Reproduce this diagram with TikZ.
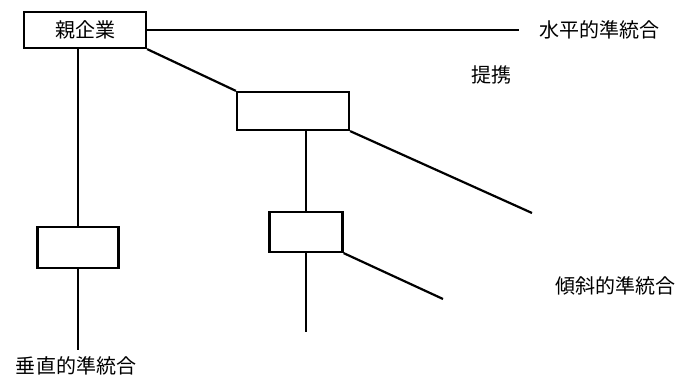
\documentclass[tikz,border=0pt]{standalone}
\usepackage{fontspec}
\newfontfamily\jpfont{Noto Sans CJK JP}
\tikzset{
  unit/.style={draw, line width=2.2pt, inner sep=0pt, fill=white},
  link/.style={line width=2.2pt},
  tag/.style={font=\jpfont\fontsize{20}{24}\selectfont, inner sep=0pt}
}
\begin{document}
\begin{tikzpicture}[x=1pt, y=-1pt]
  \useasboundingbox (0,0) rectangle (684,387);

  % companies
  \node[unit, minimum width=122pt, minimum height=36pt, tag, draw, line width=2.2pt] (parent) at (85,30) {親企業};
  \node[unit, minimum width=112pt, minimum height=38pt] (mid) at (293,111) {};
  \node[unit, minimum width=73pt, minimum height=40pt] (low) at (306,232) {};
  \node[unit, minimum width=81pt, minimum height=41pt] (left) at (78,247.5) {};

  % loose line ends
  \coordinate (hEnd) at (519,30);
  \coordinate (dEnd1) at (532,213);
  \coordinate (dEnd2) at (443,299);
  \coordinate (vEnd1) at (78,350);
  \coordinate (vEnd2) at (306,332);

  % connectors
  \draw[link] (parent.east) -- (hEnd);
  \draw[link] (parent.south east) -- (mid.north west);
  \draw[link] (left.north |- parent.south) -- (left.north);
  \draw[link] (left.south) -- (vEnd1);
  \draw[link] (mid.south east) -- (dEnd1);
  \draw[link] (low.north |- mid.south) -- (low.north);
  \draw[link] (low.south) -- (vEnd2);
  \draw[link] (low.south east) -- (dEnd2);

  % labels
  \node[tag] (horiz) at (599,30) {水平的準統合};
  \node[tag] (tie) at (491,75) {提携};
  \node[tag] (tilt) at (615,286) {傾斜的準統合};
  \node[tag] (vert) at (76,366) {垂直的準統合};
\end{tikzpicture}
\end{document}
